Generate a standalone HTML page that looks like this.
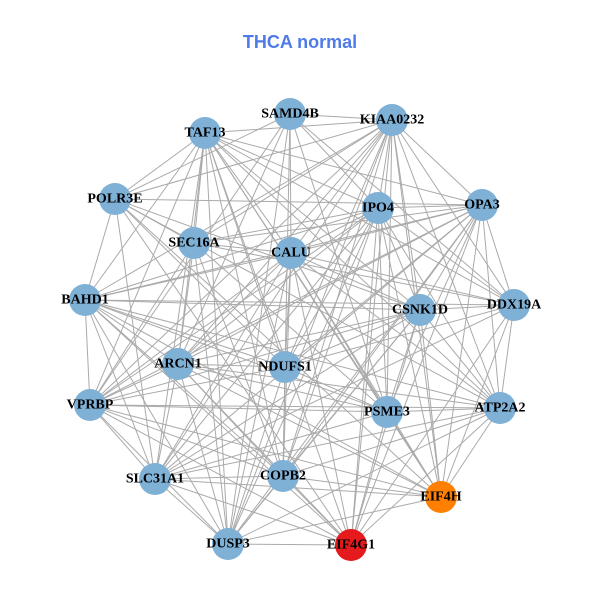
<!DOCTYPE html>
<html><head><meta charset="utf-8"><style>
html,body{margin:0;padding:0;background:#fff;width:600px;height:600px;overflow:hidden}
svg text{font-family:"Liberation Serif",serif;font-weight:bold;font-size:14px;fill:#000;text-anchor:middle;dominant-baseline:central}
</style></head><body>
<svg id="g" width="600" height="600" xmlns="http://www.w3.org/2000/svg">
<text x="300" y="42" style="font-family:'Liberation Sans',sans-serif;font-size:18px;fill:#4f7be8">THCA normal</text>
<g id="edges" stroke="#aaaaaa" stroke-width="1"></g>
<g id="nodes">
<circle cx="290" cy="114" r="16" fill="#7fb0d6"/>
<circle cx="392" cy="120" r="16" fill="#7fb0d6"/>
<circle cx="205" cy="133" r="16" fill="#7fb0d6"/>
<circle cx="115" cy="199" r="16" fill="#7fb0d6"/>
<circle cx="482" cy="205" r="16" fill="#7fb0d6"/>
<circle cx="378" cy="208" r="16" fill="#7fb0d6"/>
<circle cx="194" cy="243" r="16" fill="#7fb0d6"/>
<circle cx="291" cy="253" r="16" fill="#7fb0d6"/>
<circle cx="85" cy="300" r="16" fill="#7fb0d6"/>
<circle cx="514" cy="305" r="16" fill="#7fb0d6"/>
<circle cx="420" cy="310" r="16" fill="#7fb0d6"/>
<circle cx="178" cy="364" r="16" fill="#7fb0d6"/>
<circle cx="285" cy="367" r="16" fill="#7fb0d6"/>
<circle cx="90" cy="405" r="16" fill="#7fb0d6"/>
<circle cx="500" cy="408" r="16" fill="#7fb0d6"/>
<circle cx="387" cy="412" r="16" fill="#7fb0d6"/>
<circle cx="155" cy="479" r="16" fill="#7fb0d6"/>
<circle cx="283" cy="476" r="16" fill="#7fb0d6"/>
<circle cx="441" cy="497" r="16" fill="#ff8000"/>
<circle cx="228" cy="544" r="16" fill="#7fb0d6"/>
<circle cx="351" cy="545" r="16" fill="#e41a1c"/>
</g>
<g>
<text x="290" y="114">SAMD4B</text>
<text x="392" y="120">KIAA0232</text>
<text x="205" y="133">TAF13</text>
<text x="115" y="199">POLR3E</text>
<text x="482" y="205">OPA3</text>
<text x="378" y="208">IPO4</text>
<text x="194" y="243">SEC16A</text>
<text x="291" y="253">CALU</text>
<text x="85" y="300">BAHD1</text>
<text x="514" y="305">DDX19A</text>
<text x="420" y="310">CSNK1D</text>
<text x="178" y="364">ARCN1</text>
<text x="285" y="367">NDUFS1</text>
<text x="90" y="405">VPRBP</text>
<text x="500" y="408">ATP2A2</text>
<text x="387" y="412">PSME3</text>
<text x="155" y="479">SLC31A1</text>
<text x="283" y="476">COPB2</text>
<text x="441" y="497">EIF4H</text>
<text x="228" y="544">DUSP3</text>
<text x="351" y="545">EIF4G1</text>
</g>
</svg>
<script>
var c=document.querySelectorAll('#nodes circle'),p=[];
c.forEach(function(e){p.push([+e.getAttribute('cx'),+e.getAttribute('cy')]);});
var g=document.getElementById('edges'),ns='http://www.w3.org/2000/svg';
for(var i=0;i<p.length;i++)for(var j=i+1;j<p.length;j++){
 if((i*7+j*3)%6==0)continue;
 var l=document.createElementNS(ns,'line');
 l.setAttribute('x1',p[i][0]);l.setAttribute('y1',p[i][1]);
 l.setAttribute('x2',p[j][0]);l.setAttribute('y2',p[j][1]);
 g.appendChild(l);}
</script>
</body></html>
